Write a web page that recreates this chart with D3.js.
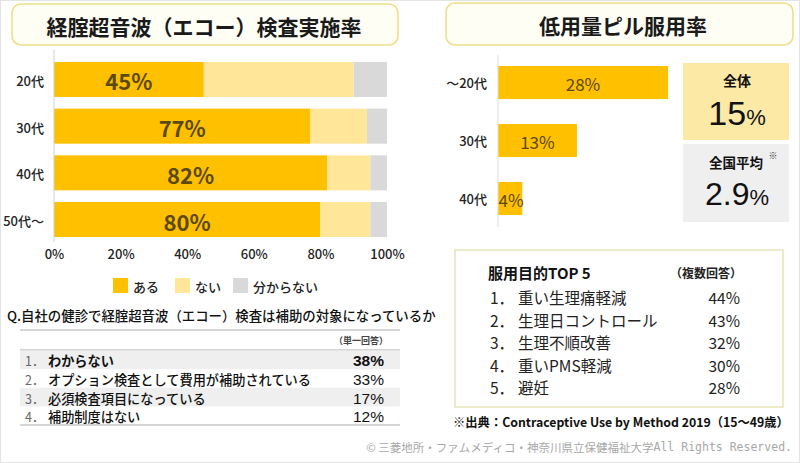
<!DOCTYPE html>
<html><head><meta charset="utf-8">
<script src="https://cdn.jsdelivr.net/npm/d3@7"></script>
<style>
html,body{margin:0;padding:0;background:#fff;}
svg{display:block;font-family:"Noto Sans CJK JP","Noto Sans",sans-serif;}
</style></head>
<body>
<svg id="chart" width="800" height="463"></svg>
<script>
// ---------- data ----------
const leftTitle = "経腟超音波（エコー）検査実施率";
const leftCategories = ["20代", "30代", "40代", "50代〜"];
const aruValues = [45, 77, 82, 80];
const naiValues = [45, 17, 13, 15];
const unknownValues = [10, 6, 5, 5];
const leftTicks = [0, 20, 40, 60, 80, 100];
const legendLabels = ["ある", "ない", "分からない"];
const questionText = "Q.自社の健診で経腟超音波（エコー）検査は補助の対象になっているか";
const questionNote = "（単一回答）";
const questionItems = ["わからない", "オプション検査として費用が補助されている", "必須検査項目になっている", "補助制度はない"];
const questionValues = [38, 33, 17, 12];

const rightTitle = "低用量ピル服用率";
const pillCategories = ["〜20代", "30代", "40代"];
const pillValues = [28, 13, 4];
const overallLabel = "全体";
const overallValue = 15;
const nationalLabel = "全国平均";
const nationalValue = 2.9;
const purposeTitle = "服用目的TOP 5";
const purposeNote = "（複数回答）";
const purposeItems = ["重い生理痛軽減", "生理日コントロール", "生理不順改善", "重いPMS軽減", "避妊"];
const purposeValues = [44, 43, 32, 30, 28];
const sourceNote = "※出典：Contraceptive Use by Method 2019（15〜49歳）";
const copyrightJa = "© 三菱地所・ファムメディコ・神奈川県立保健福祉大学";
const copyrightEn = "All Rights Reserved.";

// ---------- styles ----------
const C_ARU = "#ffc000", C_NAI = "#ffe699", C_UNK = "#d9d9d9";
const C_LABEL = "#5b4912";
const NUM_FONT = "'Liberation Sans','Noto Sans',sans-serif";
const svg = d3.select("#chart");

// outer faint frame
svg.append("rect").attr("x", 0.5).attr("y", 0.5).attr("width", 799).attr("height", 462)
  .attr("fill", "none").attr("stroke", "#e4e4e4");

// title boxes
function titleBox(x, y, w, h, text, cx) {
  svg.append("rect").attr("x", x).attr("y", y).attr("width", w).attr("height", h)
    .attr("rx", 9).attr("fill", "#fffef5").attr("stroke", "#eddf8a").attr("stroke-width", 1.6);
  svg.append("text").attr("x", cx).attr("y", y + h / 2 + 1).attr("text-anchor", "middle")
    .attr("dominant-baseline", "central").attr("font-size", 21).attr("font-weight", "bold")
    .attr("fill", "#1a1a1a").text(text);
}
titleBox(12, 4, 386, 41, leftTitle, 204);
titleBox(446, 3, 347, 42, rightTitle, 623);

// ---------- left stacked bar chart ----------
const x = d3.scaleLinear().domain([0, 100]).range([54, 387]);
const y = d3.scaleBand().domain(leftCategories).range([50.3, 248.7]).paddingInner(0.25).paddingOuter(0.25);

const rows = leftCategories.map((c, i) => ({ cat: c, aru: aruValues[i], nai: naiValues[i], unk: unknownValues[i] }));
const keys = ["aru", "nai", "unk"];
const colors = { aru: C_ARU, nai: C_NAI, unk: C_UNK };
const stacked = d3.stack().keys(keys)(rows);

const gL = svg.append("g");
stacked.forEach(layer => {
  gL.selectAll(null).data(layer).enter().append("rect")
    .attr("x", d => x(d[0])).attr("width", d => x(d[1]) - x(d[0]))
    .attr("y", d => y(d.data.cat)).attr("height", y.bandwidth())
    .attr("fill", colors[layer.key]);
});
gL.append("line").attr("x1", 54).attr("x2", 54).attr("y1", 50).attr("y2", 242)
  .attr("stroke", "#d0d0d0").attr("stroke-width", 1);

gL.selectAll(null).data(rows).enter().append("text")
  .attr("x", d => (x(0) + x(d.aru)) / 2).attr("y", d => y(d.cat) + y.bandwidth() / 2 + 1)
  .attr("text-anchor", "middle").attr("dominant-baseline", "central")
  .attr("font-size", 22).attr("font-weight", "bold").attr("fill", C_LABEL)
  .text(d => d.aru + "%");

gL.selectAll(null).data(leftCategories).enter().append("text")
  .attr("x", 44).attr("y", d => y(d) + y.bandwidth() / 2 + 1)
  .attr("text-anchor", "end").attr("dominant-baseline", "central")
  .attr("font-size", 13).attr("font-weight", 500).attr("fill", "#222").text(d => d);

// x axis ticks via d3.axisBottom
const xAxis = d3.axisBottom(x).tickValues(leftTicks).tickFormat(d => d + "%").tickSize(0).tickPadding(0);
const ax = svg.append("g").attr("transform", "translate(0,250)").call(xAxis);
ax.select(".domain").remove();
ax.selectAll("text").attr("font-size", 13).attr("fill", "#222")
  .attr("font-family", "'Noto Sans CJK JP',sans-serif").attr("font-weight", 500);

// legend
const legendX = [113, 175, 233];
const legendColors = [C_ARU, C_NAI, C_UNK];
legendLabels.forEach((l, i) => {
  svg.append("rect").attr("x", legendX[i]).attr("y", 278).attr("width", 15).attr("height", 15).attr("fill", legendColors[i]);
  svg.append("text").attr("x", legendX[i] + 20).attr("y", 286).attr("dominant-baseline", "central")
    .attr("font-size", 13).attr("font-weight", 500).attr("fill", "#222").text(l);
});

// question table
svg.append("text").attr("x", 7).attr("y", 315).attr("dominant-baseline", "central")
  .attr("font-size", 13.4).attr("font-weight", 500).attr("fill", "#111").text(questionText);
svg.append("line").attr("x1", 20).attr("x2", 400).attr("y1", 330).attr("y2", 330).attr("stroke", "#c8c8c8").attr("stroke-width", 1.5);
svg.append("text").attr("x", 388).attr("y", 340).attr("text-anchor", "end").attr("dominant-baseline", "central")
  .attr("font-size", 9).attr("fill", "#444").attr("font-weight", "bold").text(questionNote);
svg.append("line").attr("x1", 20).attr("x2", 400).attr("y1", 350).attr("y2", 350).attr("stroke", "#c8c8c8").attr("stroke-width", 1.5);

const qy = d3.scaleBand().domain(d3.range(questionItems.length)).range([350.5, 425]);
questionItems.forEach((item, i) => {
  const top = qy(i), h = qy.bandwidth();
  if (i % 2 === 0) svg.append("rect").attr("x", 20).attr("y", top).attr("width", 380).attr("height", h).attr("fill", "#efefef");
  const bold = i === 0 ? "bold" : "normal";
  svg.append("text").attr("x", 25).attr("y", top + h / 2 + 1).attr("dominant-baseline", "central")
    .attr("font-size", 12.5).attr("fill", "#666").text((i + 1) + "．");
  svg.append("text").attr("x", 48).attr("y", top + h / 2 + 1).attr("dominant-baseline", "central")
    .attr("font-size", 13.2).attr("font-weight", bold === "bold" ? 700 : 500).attr("fill", "#111").text(item);
  svg.append("text").attr("x", 384).attr("y", top + h / 2 + 1).attr("text-anchor", "end").attr("dominant-baseline", "central")
    .attr("font-family", NUM_FONT)
    .attr("font-size", 15.5).attr("font-weight", bold === "bold" ? 700 : 400).attr("fill", "#111").text(questionValues[i] + "%");
});
svg.append("line").attr("x1", 20).attr("x2", 400).attr("y1", 425).attr("y2", 425).attr("stroke", "#c8c8c8").attr("stroke-width", 1.5);

// ---------- right bar chart ----------
const xr = d3.scaleLinear().domain([0, 28]).range([498, 668]);
const yr = d3.scaleBand().domain(pillCategories).range([48.6, 232.4]).paddingInner(0.43).paddingOuter(0.3);
const gR = svg.append("g");
gR.selectAll(null).data(pillCategories).enter().append("rect")
  .attr("x", xr(0)).attr("y", d => yr(d)).attr("height", yr.bandwidth())
  .attr("width", (d, i) => xr(pillValues[i]) - xr(0)).attr("fill", C_ARU);
gR.append("line").attr("x1", 498).attr("x2", 498).attr("y1", 55).attr("y2", 227).attr("stroke", "#dcdcdc");
gR.selectAll(null).data(pillCategories).enter().append("text")
  .attr("x", (d, i) => (xr(0) + xr(pillValues[i])) / 2 + (pillValues[i] < 6 ? 1 : 0))
  .attr("y", d => yr(d) + yr.bandwidth() / 2 + 1)
  .attr("text-anchor", "middle").attr("dominant-baseline", "central")
  .attr("font-size", 17).attr("fill", C_LABEL).text((d, i) => pillValues[i] + "%");
gR.selectAll(null).data(pillCategories).enter().append("text")
  .attr("x", 487).attr("y", d => yr(d) + yr.bandwidth() / 2)
  .attr("text-anchor", "end").attr("dominant-baseline", "central")
  .attr("font-size", 13).attr("font-weight", 500).attr("fill", "#222").text(d => d);

// summary boxes
svg.append("rect").attr("x", 683).attr("y", 63).attr("width", 106).attr("height", 77).attr("fill", "#fde9a6");
svg.append("text").attr("x", 737).attr("y", 80).attr("text-anchor", "middle").attr("dominant-baseline", "central")
  .attr("font-size", 14).attr("font-weight", "bold").attr("fill", "#111").text(overallLabel);
const t1 = svg.append("text").attr("x", 737).attr("y", 125).attr("text-anchor", "middle").attr("fill", "#111")
  .attr("font-family", NUM_FONT);
t1.append("tspan").attr("font-size", 34).text(overallValue);
t1.append("tspan").attr("font-size", 22).text("%");

svg.append("rect").attr("x", 683).attr("y", 144).attr("width", 106).attr("height", 78).attr("fill", "#efefef");
svg.append("text").attr("x", 736).attr("y", 162).attr("text-anchor", "middle").attr("dominant-baseline", "central")
  .attr("font-size", 13.5).attr("font-weight", "bold").attr("fill", "#111").text(nationalLabel);
svg.append("text").attr("x", 773).attr("y", 155).attr("text-anchor", "middle").attr("dominant-baseline", "central")
  .attr("font-size", 9).attr("fill", "#333").text("※");
const t2 = svg.append("text").attr("x", 737).attr("y", 205).attr("text-anchor", "middle").attr("fill", "#111")
  .attr("font-family", NUM_FONT);
t2.append("tspan").attr("font-size", 32).text(nationalValue);
t2.append("tspan").attr("font-size", 22).text("%");

// purpose table
svg.append("rect").attr("x", 455).attr("y", 250).attr("width", 328).attr("height", 157)
  .attr("fill", "#fff").attr("stroke", "#e6e4b8").attr("stroke-width", 1.5);
svg.append("text").attr("x", 488).attr("y", 272).attr("dominant-baseline", "central")
  .attr("font-size", 15).attr("font-weight", "bold").attr("fill", "#111").text(purposeTitle);
svg.append("text").attr("x", 742).attr("y", 272).attr("text-anchor", "end").attr("dominant-baseline", "central")
  .attr("font-size", 12).attr("font-weight", "bold").attr("fill", "#222").text(purposeNote);
const py = d3.scalePoint().domain(d3.range(purposeItems.length)).range([297, 387]);
purposeItems.forEach((item, i) => {
  svg.append("text").attr("x", 490).attr("y", py(i)).attr("dominant-baseline", "central")
    .attr("font-size", 15.5).attr("fill", "#222").text((i + 1) + "．");
  svg.append("text").attr("x", 518).attr("y", py(i)).attr("dominant-baseline", "central")
    .attr("font-size", 15.5).attr("fill", "#222").text(item);
  svg.append("text").attr("x", 740).attr("y", py(i)).attr("text-anchor", "end").attr("dominant-baseline", "central")
    .attr("font-size", 15.5).attr("fill", "#222").text(purposeValues[i] + "%");
});
svg.append("text").attr("x", 453).attr("y", 422).attr("dominant-baseline", "central")
  .attr("font-size", 12.3).attr("font-weight", "bold").attr("fill", "#111").text(sourceNote);

// copyright
const cp = svg.append("text").attr("x", 792).attr("y", 447).attr("text-anchor", "end").attr("dominant-baseline", "central")
  .attr("font-size", 11.5).attr("fill", "#a8a8a8");
cp.append("tspan").text(copyrightJa);
cp.append("tspan").attr("font-family", "'DejaVu Sans Mono',monospace").attr("font-size", 11.5).text(copyrightEn);
</script>
</body></html>
